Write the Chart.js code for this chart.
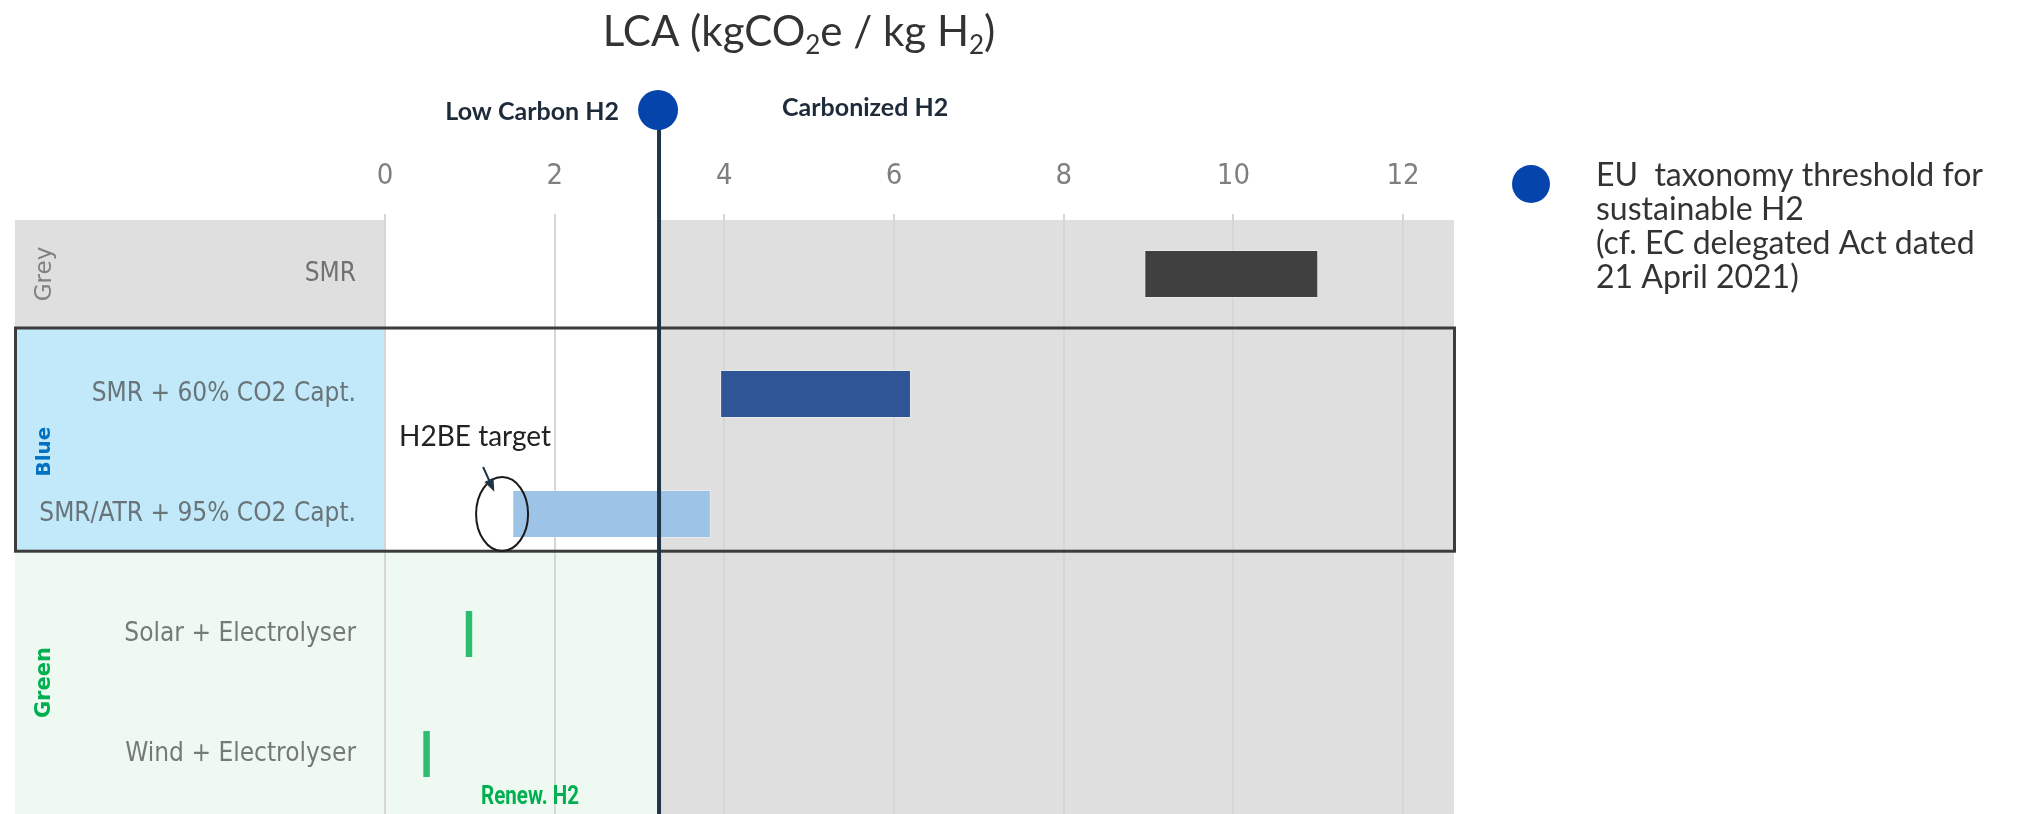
<!DOCTYPE html>
<html>
<head>
<meta charset="utf-8">
<script src="https://cdn.jsdelivr.net/npm/chart.js@4.4.1/dist/chart.umd.min.js"></script>
<style>
  html, body { margin: 0; padding: 0; background: #fff; }
  #wrap { position: relative; width: 2017px; height: 814px; }
</style>
</head>
<body>
<div id="wrap"><canvas id="lcaChart"></canvas></div>
<script>
// data
const categories = ['SMR', 'SMR + 60% CO2 Capt.', 'SMR/ATR + 95% CO2 Capt.', 'Solar + Electrolyser', 'Wind + Electrolyser'];
const lcaMin = [8.95, 3.95, 1.5, 0.94, 0.44];
const lcaMax = [11.0, 6.2, 3.84, 1.04, 0.54];
const xTickValues = [0, 2, 4, 6, 8, 10, 12];
const thresholdValue = 3.23;
const targetValue = 1.38;   // H2BE target, circled on the SMR/ATR row
const targetRow = 2;
const groupNames = ['Grey', 'Blue', 'Green'];
const legendLines = ['EU  taxonomy threshold for', 'sustainable H2', '(cf. EC delegated Act dated', '21 April 2021)'];

// styles
const barColors = ['#404040', '#2F5597', '#9DC3E6', '#2DBD6E', '#2DBD6E'];
const groupTextColors = ['#808080', '#0070C0', '#00B050'];
const groupFonts = ['23px "DejaVu Sans", sans-serif', 'bold 20px "DejaVu Sans", sans-serif', 'bold 21px "DejaVu Sans", sans-serif'];
const bandEdges = [-0.45, 0.45, 2.31];   // top of grey, blue, green bands (category units)
const titleFont = 'Lato, "Open Sans", sans-serif';
const axisFont = '"Liberation Sans Narrow", "DejaVu Sans Condensed", "Liberation Sans", sans-serif';

function drawTitle(ctx, cx, baseline, size) {
  const parts = [['LCA (kgCO', false], ['2', true], ['e / kg H', false], ['2', true], [')', false]];
  let total = 0;
  parts.forEach(p => {
    ctx.font = (p[1] ? Math.round(size * 0.62) : size) + 'px ' + titleFont;
    total += ctx.measureText(p[0]).width;
  });
  let xx = cx - total / 2;
  ctx.fillStyle = '#333333';
  ctx.textAlign = 'left';
  ctx.textBaseline = 'alphabetic';
  parts.forEach(p => {
    ctx.font = (p[1] ? Math.round(size * 0.62) : size) + 'px ' + titleFont;
    ctx.fillText(p[0], xx, baseline + (p[1] ? size * 0.2 : 0));
    xx += ctx.measureText(p[0]).width;
  });
}

const backdrop = {
  id: 'backdrop',
  beforeDraw(chart) {
    const {ctx, chartArea, scales: {x, y}} = chart;
    const tx = x.getPixelForValue(thresholdValue);
    const left = 15;
    const yTop = y.getPixelForValue(bandEdges[0]);
    const yBlue = y.getPixelForValue(bandEdges[1]);
    const yGreen = y.getPixelForValue(bandEdges[2]);
    const bottom = chartArea.bottom;
    ctx.save();
    ctx.fillStyle = '#ffffff';
    ctx.fillRect(0, 0, chart.width, chart.height);
    ctx.fillStyle = '#DFDFDF';
    ctx.fillRect(left, yTop, chartArea.left - left, yBlue - yTop);
    ctx.fillRect(tx, yTop, chartArea.right - tx, bottom - yTop);
    ctx.fillStyle = '#C1E9FA';
    ctx.fillRect(left, yBlue, chartArea.left - left, yGreen - yBlue);
    ctx.fillStyle = '#EEF9F2';
    ctx.fillRect(left, yGreen, tx - left, bottom - yGreen);
    ctx.restore();
  }
};

const overlay = {
  id: 'overlay',
  afterDatasetsDraw(chart) {
    const {ctx, chartArea, scales: {x, y}} = chart;
    const tx = x.getPixelForValue(thresholdValue);
    const yTop = y.getPixelForValue(bandEdges[0]);
    const yBlue = y.getPixelForValue(bandEdges[1]);
    const yGreen = y.getPixelForValue(bandEdges[2]);
    ctx.save();

    // blue group frame
    ctx.strokeStyle = '#3C3C3C';
    ctx.lineWidth = 3;
    ctx.strokeRect(15.5, yBlue, chartArea.right - 15, yGreen - yBlue);

    // group names, rotated
    const mids = [(yTop + yBlue) / 2, (yBlue + yGreen) / 2 + 12, (yGreen + chartArea.bottom) / 2];
    groupNames.forEach((g, i) => {
      ctx.save();
      ctx.translate(45, mids[i]);
      ctx.rotate(-Math.PI / 2);
      ctx.font = groupFonts[i];
      ctx.fillStyle = groupTextColors[i];
      ctx.textAlign = 'center';
      ctx.textBaseline = 'middle';
      ctx.fillText(g, 0, 0);
      ctx.restore();
    });

    // H2BE target circle + arrow + label
    const cx = x.getPixelForValue(targetValue);
    const cy = y.getPixelForValue(targetRow);
    ctx.strokeStyle = '#1A1A1A';
    ctx.lineWidth = 2;
    ctx.beginPath();
    ctx.ellipse(cx, cy, 26, 37, 0, 0, Math.PI * 2);
    ctx.stroke();
    const ax0 = cx - 19, ay0 = cy - 47, ax1 = cx - 9, ay1 = cy - 25;
    ctx.strokeStyle = '#203447';
    ctx.fillStyle = '#203447';
    ctx.lineWidth = 2;
    ctx.beginPath();
    ctx.moveTo(ax0, ay0);
    ctx.lineTo(ax1, ay1);
    ctx.stroke();
    const ang = Math.atan2(ay1 - ay0, ax1 - ax0);
    ctx.beginPath();
    ctx.moveTo(ax1 + 3 * Math.cos(ang), ay1 + 3 * Math.sin(ang));
    ctx.lineTo(ax1 - 10 * Math.cos(ang) + 5 * Math.sin(ang), ay1 - 10 * Math.sin(ang) - 5 * Math.cos(ang));
    ctx.lineTo(ax1 - 10 * Math.cos(ang) - 5 * Math.sin(ang), ay1 - 10 * Math.sin(ang) + 5 * Math.cos(ang));
    ctx.closePath();
    ctx.fill();
    ctx.font = '28px ' + titleFont;
    ctx.fillStyle = '#222222';
    ctx.textAlign = 'center';
    ctx.textBaseline = 'middle';
    ctx.fillText('H2BE target', cx - 27, cy - 77);

    // Renew. H2 (squeezed to look like a narrow bold face)
    ctx.save();
    ctx.translate(tx - 129, 798);
    ctx.scale(0.82, 1);
    ctx.font = 'bold 25px Roboto, "Liberation Sans", sans-serif';
    ctx.fillStyle = '#00B050';
    ctx.fillText('Renew. H2', 0, 0);
    ctx.restore();

    // threshold line and marker
    ctx.strokeStyle = '#203447';
    ctx.lineWidth = 4;
    ctx.beginPath();
    ctx.moveTo(tx, 110);
    ctx.lineTo(tx, chartArea.bottom);
    ctx.stroke();
    ctx.fillStyle = '#0545AB';
    ctx.beginPath();
    ctx.arc(tx - 1, 110, 20, 0, Math.PI * 2);
    ctx.fill();

    ctx.font = 'bold 25px ' + titleFont;
    ctx.fillStyle = '#1E2B3A';
    ctx.textBaseline = 'alphabetic';
    ctx.textAlign = 'right';
    ctx.fillText('Low Carbon H2', tx - 40, 120);
    ctx.textAlign = 'left';
    ctx.fillText('Carbonized H2', tx + 123, 116);
    ctx.restore();
  },
  afterDraw(chart) {
    const ctx = chart.ctx;
    ctx.save();
    drawTitle(ctx, 799, 46, 42);
    // legend
    ctx.fillStyle = '#0545AB';
    ctx.beginPath();
    ctx.arc(1531, 184, 19, 0, Math.PI * 2);
    ctx.fill();
    ctx.font = '32px ' + titleFont;
    ctx.fillStyle = '#333333';
    ctx.textAlign = 'left';
    ctx.textBaseline = 'alphabetic';
    legendLines.forEach((t, i) => ctx.fillText(t, 1596, 186 + i * 34));
    ctx.restore();
  }
};

const lcaChart = new Chart(document.getElementById('lcaChart'), {
  type: 'bar',
  data: {
    labels: categories,
    datasets: [{
      label: 'LCA',
      data: categories.map((c, i) => [lcaMin[i], lcaMax[i]]),
      backgroundColor: barColors,
      borderColor: 'rgba(255,255,255,0.35)',
      borderWidth: 1,
      borderSkipped: false,
      barPercentage: 0.4,
      categoryPercentage: 1
    }]
  },
  options: {
    indexAxis: 'y',
    animation: false,
    responsive: true,
    maintainAspectRatio: false,
    layout: { padding: { top: 0, left: 0, right: 563, bottom: 0 } },
    plugins: {
      legend: { display: false },
      title: { display: false },
      tooltip: { enabled: false }
    },
    scales: {
      x: {
        type: 'linear',
        position: 'top',
        min: 0,
        max: 12.6,
        afterBuildTicks: scale => { scale.ticks = xTickValues.map(v => ({ value: v })); },
        ticks: {
          color: '#7F7F7F',
          font: { family: axisFont, size: 29 },
          padding: 20
        },
        grid: { color: '#D6D6D6', lineWidth: 2, drawTicks: false },
        border: { display: false },
        afterFit: scale => { scale.height = 214; scale.paddingLeft = 0; scale.paddingRight = 0; }
      },
      y: {
        ticks: {
          color: 'rgba(70,70,70,0.72)',
          font: { family: axisFont, size: 26 },
          padding: 29
        },
        grid: { display: false, drawTicks: false },
        border: { display: false },
        afterFit: scale => { scale.width = 385; scale.paddingTop = 0; scale.paddingBottom = 0; }
      }
    }
  },
  plugins: [backdrop, overlay]
});
</script>
</body>
</html>
